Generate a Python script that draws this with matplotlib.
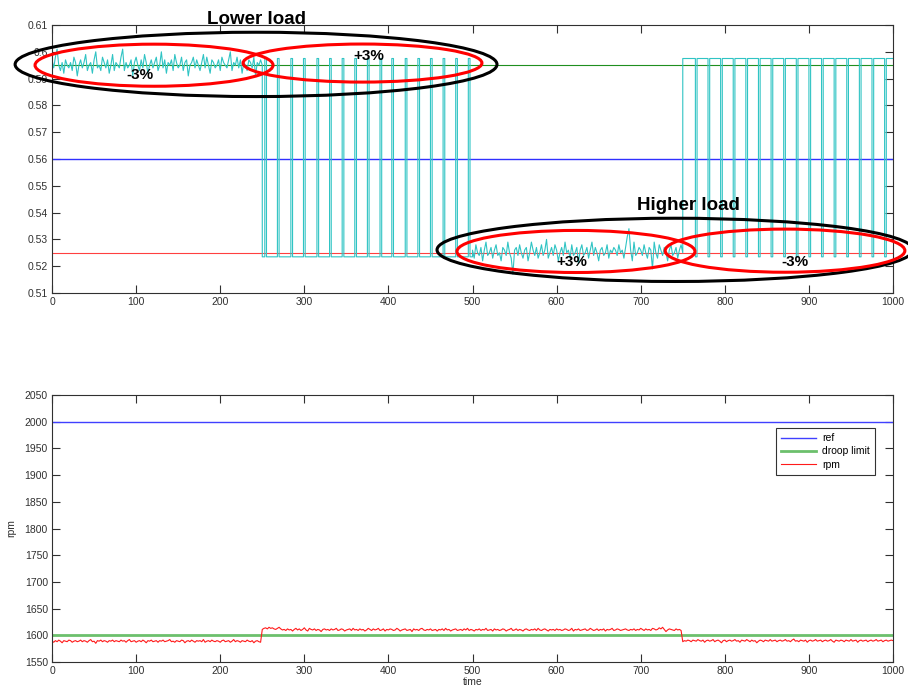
import numpy as np
import matplotlib.pyplot as plt
from matplotlib.patches import Ellipse

# --------------------------
# Data
# --------------------------
# top panel : control signal
ref_level = 0.56
droop_high = 0.595
droop_low = 0.525
sw_high = 0.5975
sw_low = 0.5235

# noise around the droop level, in 1e-3, sampled every 2 time units
noise_lower_t = np.arange(0, 250, 2)
noise_lower = [2, -1, 3, 6, 0, -2, 1, -3, 2, 0, -1, 1, -2, 3, 1, -4, 0, 2, -1, 1,
               4, -2, 0, 1, -3, 2, 5, -1, 0, -2, 3, 1, -1, 2, -3, 0, 4, -2, 1, 0,
               -1, 3, 6, -2, 1, -1, 0, 2, -4, 1, 3, 0, -2, 2, -1, 4, 1, -3, 0, 2,
               -1, 1, 3, -2, 0, 5, -1, 2, -3, 1, 0, 2, -2, 4, 1, -1, 0, 3, -2, 1,
               2, -4, 0, 1, 3, -1, 2, 0, -2, 1, 4, -1, 3, 0, -3, 2, 1, -1, 0, 2,
               -2, 3, 1, 0, -1, 2, 5, -2, 1, 0, 3, -1, 2, -3, 1, 0, -2, 2, 1, -1,
               3, -4, 1, 0, 2]
noise_higher_t = np.arange(500, 750, 2)
noise_higher = [1, -2, 3, 0, -1, 2, -3, 1, 4, -1, 0, 2, -2, 1, 3, -1, 0, -3, 2, 1,
                -1, 4, 0, -2, -8, 1, 2, -1, 3, 0, -2, 1, 2, -3, 0, 4, 1, -1, 2, -2,
                0, 3, -1, 1, 5, -2, 0, 2, -1, 3, 1, -3, 0, 2, -1, 4, 0, 1, -2, 3,
                -1, 0, 2, -4, 1, 3, -1, 0, 2, -2, 1, 4, -1, 2, 0, -3, 1, 2, -1, 0,
                3, -2, 1, 0, 2, 1, -1, 3, 0, 1, -2, 2, 6, 9, 1, -3, 4, -1, 0, 2,
                1, -1, 3, 0, -2, 2, 1, -6, 4, 0, -2, 3, 1, -1, 2, 0, -3, 1, 3, -1,
                0, 2, -2, 1, 3]

# switching pulses (start times, 2 units wide)
pulse_up_t = [253, 268, 284, 299, 315, 330, 345, 360, 375, 390, 404, 420, 435,
              450, 465, 480, 495]
pulse_down_t = [765, 780, 795, 810, 825, 840, 855, 870, 885, 900, 915, 930, 945,
                960, 975, 990]
pulse_width = 2

# bottom panel : rpm
rpm_ref = 2000
rpm_droop = 1600
rpm_low1_t = np.arange(0, 250, 2)
rpm_low1 = [0, -2, 1, -1, 2, 0, -3, 1, 0, -1, 2, 1, -2, 0, 1, -1, 0, 2, -1, 1,
            0, -2, 1, 3, -1, 0, -4, 1, 0, 2, -1, 1, 0, -2, 1, 0, 2, -1, 1, 0,
            -1, 2, 0, 1, -2, 1, 3, -1, 0, 1, -2, 0, 1, -1, 2, 0, -3, 1, 0, 2,
            -1, 0, 1, -2, 1, 0, 2, -1, 0, 1, 3, -1, 0, -2, 1, 0, -1, 2, 1, -3,
            0, 1, -1, 2, 0, -2, 1, 0, 1, -1, 3, -2, 0, 1, -1, 2, 0, -1, 1, 0,
            -2, 1, 2, -1, 0, 1, -2, 0, 3, -1, 1, 0, -2, 1, 0, -1, 2, 0, -1, 1,
            -3, 0, 1, -1, -2]
rpm_high_t = np.arange(250, 750, 2)
rpm_high = [1, 3, 4, 2, 5, 3, 4, 2, 1, 3, 5, 2, 0, 1, -1, 2, 0, 1, -2, 1,
            3, 0, 2, -1, 1, 4, 0, -2, 3, 1, 0, 2, -1, 1, 0, -3, 1, 2, 0, 1,
            -1, 2, 0, 1, 3, -1, 0, 2, 1, -2, 0, 1, 2, -1, 3, 0, 1, -1, 2, 0,
            1, -2, 0, 3, 1, -1, 2, 0, 1, 3, -1, 0, 2, -2, 1, 0, 2, 1, -1, 0,
            3, 1, -2, 0, 1, 2, -1, 0, 1, -3, 2, 0, 1, -1, 2, 3, 0, -1, 1, 0,
            2, -1, 0, 1, -2, 1, 0, 2, -1, 3, 0, 1, -2, 0, 1, 2, -1, 0, 1, -1,
            2, 0, 3, -1, 1, 0, -2, 1, 0, 2, -1, 1, 0, 3, -1, 0, 1, -2, 2, 0,
            1, -1, 0, 2, 1, -2, 0, 1, 3, -1, 0, 2, -1, 1, 0, -2, 1, 2, 0, -1,
            1, 0, 2, -1, 3, 0, -1, 1, 2, 0, -2, 1, 0, 1, -1, 2, 0, 1, -1, 0,
            2, 1, -1, 0, 3, -2, 1, 0, 2, -1, 0, 1, 2, -1, 0, 3, 1, -1, 0, 2,
            -1, 1, 0, 2, -2, 1, 0, 1, 3, -1, 0, 2, 1, -1, 0, 1, 2, 0, -1, 1,
            0, 2, -1, 1, 0, 3, 1, -1, 2, 0, 1, -1, 3, 2, 0, 1, 4, 2, 5, 1,
            -3, 0, 2, 1, 0, -1, 2, 0, 1, -1]
rpm_low2_t = np.arange(750, 1001, 2)
rpm_low2 = [-2, 0, -1, 1, 0, -2, 1, 0, -1, 2, 0, -1, 1, -3, 0, 1, -1, 0, 2, -2,
            0, 1, -1, -4, 0, 1, -2, 0, 1, -1, 0, 2, -1, 0, -3, 1, 0, -1, 2, 0,
            -2, 1, -1, 0, -4, -1, 1, 0, -2, 1, 0, -1, 2, -1, 0, 1, -2, 0, 1, -1,
            0, 2, -1, 0, -2, 1, 3, -1, 0, -2, 1, 0, -1, 1, -3, 0, 1, -1, 0, 2,
            -1, 0, 1, -2, 0, 1, -1, 0, 2, -1, -3, 1, 0, -1, 1, 0, -2, 1, 0, -1,
            2, -1, 0, 1, -3, 0, 1, -1, 0, 1, -2, 0, 1, -1, 0, 2, -1, 0, 1, -2,
            0, 1, -1, 0, 1, 0]
rpm_low1_level = 1589
rpm_high_level = 1610
rpm_low2_level = 1590


# --------------------------
# Build the control signal
# --------------------------
sig_t = list(noise_lower_t) + [250]
sig_v = [droop_high + d / 1000 for d in noise_lower] + [droop_high]
sig_t.append(250)
sig_v.append(sw_low)
for s in pulse_up_t:
    sig_t += [s, s, s + pulse_width, s + pulse_width]
    sig_v += [sw_low, sw_high, sw_high, sw_low]
sig_t += [500] + list(noise_higher_t) + [750, 750]
sig_v += [sw_low] + [droop_low + d / 1000 for d in noise_higher] + [droop_low, sw_high]
for s in pulse_down_t:
    sig_t += [s, s, s + pulse_width, s + pulse_width]
    sig_v += [sw_high, sw_low, sw_low, sw_high]
sig_t.append(1000)
sig_v.append(sw_high)

rpm_t = np.concatenate([rpm_low1_t, rpm_high_t, rpm_low2_t])
rpm_v = np.concatenate([rpm_low1_level + np.array(rpm_low1),
                        rpm_high_level + np.array(rpm_high),
                        rpm_low2_level + np.array(rpm_low2)])


# --------------------------
# Figure
# --------------------------
plt.rcParams['font.family'] = ['Liberation Sans', 'DejaVu Sans']
fig = plt.figure(figsize=(9.08, 6.87), dpi=100)
ax1 = fig.add_axes([0.0573, 0.5735, 0.9262, 0.3901])
ax2 = fig.add_axes([0.0573, 0.0364, 0.9262, 0.3886])

for ax in (ax1, ax2):
    ax.tick_params(direction='in', length=5.5, width=0.8, labelsize=7.5,
                   top=True, right=True, colors='#303030', pad=3)
    for sp in ax.spines.values():
        sp.set_color('#303030')
        sp.set_linewidth(0.8)
    ax.set_xlim(0, 1000)
    ax.set_xticks(np.arange(0, 1001, 100))

# top panel
ax1.plot([0, 1000], [droop_high, droop_high], color='#1f8f1f', lw=0.8)
ax1.plot([0, 1000], [ref_level, ref_level], color='#3030ff', lw=1.0)
ax1.plot([0, 1000], [droop_low, droop_low], color='#ff4040', lw=0.8)
ax1.plot(sig_t, sig_v, color='#30c4c4', lw=0.8)
ax1.set_ylim(0.51, 0.61)
ax1.set_yticks(np.round(np.arange(0.51, 0.6101, 0.01), 2))
ax1.set_yticklabels([f"{v:g}" for v in np.round(np.arange(0.51, 0.6101, 0.01), 2)])

ell_kw = dict(fill=False, lw=2.2, clip_on=False, zorder=5)
ax1.add_patch(Ellipse((242.6, 0.5953), 573, 0.0240, ec='black', **ell_kw))
ax1.add_patch(Ellipse((121.3, 0.5950), 283, 0.0157, ec='#ff0000', **ell_kw))
ax1.add_patch(Ellipse((369.2, 0.5958), 284, 0.0142, ec='#ff0000', **ell_kw))
ax1.add_patch(Ellipse((740.8, 0.5261), 566, 0.0236, ec='black', **ell_kw))
ax1.add_patch(Ellipse((623.0, 0.5255), 283, 0.0157, ec='#ff0000', **ell_kw))
ax1.add_patch(Ellipse((871.6, 0.5258), 285, 0.0161, ec='#ff0000', **ell_kw))

txt_kw = dict(ha='center', va='center', fontweight='bold', color='black',
              clip_on=False, zorder=6)
ax1.text(242.6, 0.6120, 'Lower load', fontsize=13.5, **txt_kw)
ax1.text(757.0, 0.5427, 'Higher load', fontsize=13.5, **txt_kw)
ax1.text(105.0, 0.5912, '-3%', fontsize=11, **txt_kw)
ax1.text(377.0, 0.5986, '+3%', fontsize=11, **txt_kw)
ax1.text(618.0, 0.5214, '+3%', fontsize=11, **txt_kw)
ax1.text(883.5, 0.5214, '-3%', fontsize=11, **txt_kw)

# bottom panel
ax2.plot([0, 1000], [rpm_ref, rpm_ref], color='#4040ff', lw=1.0, label='ref')
ax2.plot([0, 1000], [rpm_droop, rpm_droop], color='#6cc06c', lw=2.0,
         label='droop limit')
ax2.plot(rpm_t, rpm_v, color='#ff1a1a', lw=0.8, label='rpm')
ax2.set_ylim(1550, 2050)
ax2.set_yticks(np.arange(1550, 2051, 50))
ax2.set_ylabel('rpm', fontsize=7.5, color='#303030', labelpad=6)
ax2.set_xlabel('time', fontsize=7.5, color='#303030', labelpad=0.5)

leg = ax2.legend(loc='upper right', bbox_to_anchor=(0.9786, 0.876),
                 borderaxespad=0, fontsize=7.5, fancybox=False,
                 handlelength=3.3, borderpad=0.5, labelspacing=0.3,
                 handletextpad=0.6)
leg.get_frame().set_edgecolor('black')
leg.get_frame().set_linewidth(0.8)

fig.savefig('out.png', dpi=100)
